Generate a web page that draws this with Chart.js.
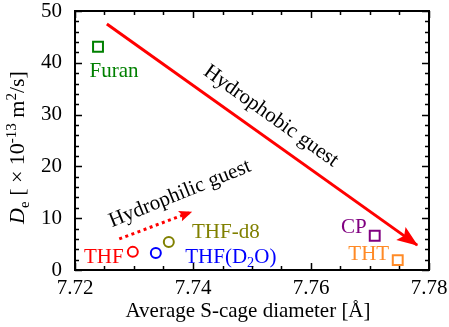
<!DOCTYPE html>
<html><head><meta charset="utf-8">
<script src="https://cdn.jsdelivr.net/npm/chart.js@4/dist/chart.umd.min.js"></script>
<style>html,body{margin:0;padding:0;background:#fff;} #wrap{width:449px;height:327px;}</style>
</head><body><div id="wrap"><canvas id="c" width="449" height="327"></canvas></div>
<script>
// ---- data ----
const guests = ['Furan', 'THF', 'THF(D2O)', 'THF-d8', 'CP', 'THT'];
const diameter = [7.7239, 7.7298, 7.7337, 7.7359, 7.7708, 7.7747];
const diffusion = [43.1, 3.5, 3.3, 5.4, 6.6, 1.9];
const xTickValues = [7.72, 7.74, 7.76, 7.78];
const xTickLabels = ['7.72', '7.74', '7.76', '7.78'];
const yTickValues = [0, 10, 20, 30, 40, 50];
const yTickLabels = ['0', '10', '20', '30', '40', '50'];
const hydrophobicArrowX = [7.7254, 7.7780];
const hydrophobicArrowY = [47.5, 4.8];
const hydrophilicArrowX = [7.7275, 7.7397];
const hydrophilicArrowY = [6.0, 11.2];
const annotationTexts = ['Hydrophobic guest', 'Hydrophilic guest'];
const annotationX = [7.7532, 7.7378];
const annotationY = [29.7, 14.7];
const xTitle = 'Average S-cage diameter [Å]';

// ---- styles ----
const FONT = '"Liberation Serif", "Times New Roman", serif';
const guestColors = ['#008000', '#ff0000', '#0000ff', '#808000', '#800080', '#ff8a26'];
const guestShapes = ['rect', 'circle', 'circle', 'circle', 'rect', 'rect'];
const guestRadius = [7, 5, 5, 5, 7, 7];
const labelDx = [16, -29, 75, 57, -21, -29];
const labelDy = [23, 4, 3, -11, -10, -7];
const annotationAngles = [35.5, -22];

function labelParts(name) {
  if (name === 'THF(D2O)') return [{t: 'THF(D'}, {t: '2', sub: true}, {t: 'O)'}];
  return [{t: name}];
}
const yTitleParts = [{t: 'D', italic: true}, {t: 'e', sub: true}, {t: ' [ × 10'}, {t: '-13', sup: true}, {t: ' m'}, {t: '2', sup: true}, {t: '/s]'}];

function partFont(p, size) {
  const s = (p.sub || p.sup) ? size * 0.68 : size;
  return (p.italic ? 'italic ' : '') + s + 'px ' + FONT;
}
function drawRich(ctx, parts, cx, cy, size, color) {
  let w = 0;
  parts.forEach(p => { ctx.font = partFont(p, size); w += ctx.measureText(p.t).width; });
  let x = cx - w / 2;
  const base = cy + size * 0.33;
  ctx.fillStyle = color;
  ctx.textAlign = 'left';
  ctx.textBaseline = 'alphabetic';
  parts.forEach(p => {
    ctx.font = partFont(p, size);
    let y = base;
    if (p.sub) y += size * 0.22;
    if (p.sup) y -= size * 0.38;
    ctx.fillText(p.t, x, y);
    x += ctx.measureText(p.t).width;
  });
}

const decorPlugin = {
  id: 'decor',
  afterDatasetsDraw(chart) {
    const ctx = chart.ctx;
    const xs = chart.scales.x, ys = chart.scales.y;
    const a = chart.chartArea;
    ctx.save();
    function head(x0, y0, x1, y1, len, half) {
      const px0 = xs.getPixelForValue(x0), py0 = ys.getPixelForValue(y0);
      const px1 = xs.getPixelForValue(x1), py1 = ys.getPixelForValue(y1);
      const ang = Math.atan2(py1 - py0, px1 - px0);
      ctx.save();
      ctx.translate(px1, py1);
      ctx.rotate(ang);
      ctx.beginPath();
      ctx.moveTo(1, 0);
      ctx.lineTo(-len, -half);
      ctx.lineTo(-len * 0.8, 0);
      ctx.lineTo(-len, half);
      ctx.closePath();
      ctx.fillStyle = '#ff0000';
      ctx.fill();
      ctx.restore();
    }
    head(hydrophobicArrowX[0], hydrophobicArrowY[0], hydrophobicArrowX[1], hydrophobicArrowY[1], 20, 8);
    head(hydrophilicArrowX[0], hydrophilicArrowY[0], hydrophilicArrowX[1], hydrophilicArrowY[1], 12, 5.5);

    guests.forEach((g, i) => {
      const px = xs.getPixelForValue(diameter[i]) + labelDx[i];
      const py = ys.getPixelForValue(diffusion[i]) + labelDy[i];
      drawRich(ctx, labelParts(g), px, py, 21, guestColors[i]);
    });

    annotationTexts.forEach((t, i) => {
      const px = xs.getPixelForValue(annotationX[i]);
      const py = ys.getPixelForValue(annotationY[i]);
      ctx.save();
      ctx.translate(px, py);
      ctx.rotate(annotationAngles[i] * Math.PI / 180);
      ctx.font = '21px ' + FONT;
      ctx.fillStyle = '#000';
      ctx.textAlign = 'center';
      ctx.textBaseline = 'middle';
      ctx.fillText(t, 0, 0);
      ctx.restore();
    });

    ctx.strokeStyle = '#000';
    ctx.lineWidth = 2;
    ctx.strokeRect(a.left, a.top, a.right - a.left, a.bottom - a.top);

    ctx.lineWidth = 1.5;
    ctx.beginPath();
    for (let i = 0; i <= 12; i++) {
      const v = xs.min + i * 0.005;
      const px = Math.round(xs.getPixelForValue(v)) + 0.5;
      const len = (i % 4 === 0) ? 7 : 4;
      ctx.moveTo(px, a.bottom); ctx.lineTo(px, a.bottom - len);
      ctx.moveTo(px, a.top); ctx.lineTo(px, a.top + len);
    }
    for (let i = 0; i <= 25; i++) {
      const v = ys.min + i * 2;
      const py = Math.round(ys.getPixelForValue(v)) + 0.5;
      const len = (i % 5 === 0) ? 7 : 4;
      ctx.moveTo(a.left, py); ctx.lineTo(a.left + len, py);
      ctx.moveTo(a.right, py); ctx.lineTo(a.right - len, py);
    }
    ctx.stroke();

    ctx.font = '21px ' + FONT;
    ctx.fillStyle = '#000';
    ctx.textAlign = 'center';
    ctx.textBaseline = 'middle';
    ctx.fillText(xTitle, (a.left + a.right) / 2 - 4, 311);

    ctx.save();
    ctx.translate(17, (a.top + a.bottom) / 2 + 7);
    ctx.rotate(-Math.PI / 2);
    drawRich(ctx, yTitleParts, 0, 0, 22, '#000');
    ctx.restore();

    ctx.restore();
  }
};

const pointData = diameter.map((x, i) => ({x: x, y: diffusion[i]}));

new Chart(document.getElementById('c'), {
  type: 'scatter',
  data: {
    datasets: [
      {
        type: 'line',
        data: hydrophobicArrowX.map((x, i) => ({x: x, y: hydrophobicArrowY[i]})),
        borderColor: '#ff0000', borderWidth: 3, pointRadius: 0, fill: false, showLine: true
      },
      {
        type: 'line',
        data: hydrophilicArrowX.map((x, i) => ({x: x, y: hydrophilicArrowY[i]})),
        borderColor: '#ff0000', borderWidth: 3, borderDash: [3, 3.5], pointRadius: 0, fill: false, showLine: true
      },
      {
        data: pointData,
        pointStyle: guestShapes,
        pointRadius: guestRadius,
        pointBorderWidth: 2,
        pointBorderColor: guestColors,
        pointBackgroundColor: 'rgba(0,0,0,0)',
        borderColor: guestColors,
        backgroundColor: 'rgba(0,0,0,0)'
      }
    ]
  },
  options: {
    responsive: false,
    animation: false,
    devicePixelRatio: 1,
    layout: {padding: {left: 0, top: 11, right: 20, bottom: 0}},
    plugins: {legend: {display: false}, tooltip: {enabled: false}},
    scales: {
      x: {
        type: 'linear', min: 7.72, max: 7.78,
        grid: {display: false, drawTicks: false},
        border: {display: false},
        afterBuildTicks: s => { s.ticks = xTickValues.map(v => ({value: v})); },
        afterFit: s => { s.height = 57; s.paddingLeft = 0; s.paddingRight = 0; },
        ticks: {
          font: {family: FONT, size: 21}, color: '#000', padding: 6, maxRotation: 0,
          callback: (v, i) => xTickLabels[i]
        }
      },
      y: {
        type: 'linear', min: 0, max: 50,
        grid: {display: false, drawTicks: false},
        border: {display: false},
        afterBuildTicks: s => { s.ticks = yTickValues.map(v => ({value: v})); },
        afterFit: s => { s.width = 75; s.paddingTop = 0; s.paddingBottom = 0; },
        ticks: {
          font: {family: FONT, size: 21}, color: '#000', padding: 13,
          callback: (v, i) => yTickLabels[i]
        }
      }
    }
  },
  plugins: [decorPlugin]
});
</script>
</body></html>
